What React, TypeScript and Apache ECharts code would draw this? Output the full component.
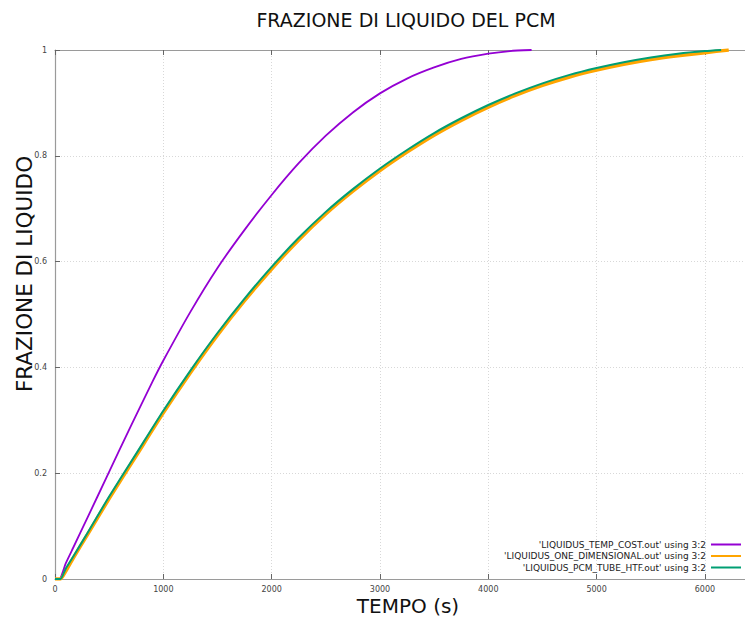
import React, { useEffect, useRef } from "react";
import * as echarts from "echarts";

const titleText = "FRAZIONE DI LIQUIDO DEL PCM";
const xName = "TEMPO (s)";
const yName = "FRAZIONE DI LIQUIDO";

const seriesNames = [
  "'LIQUIDUS_TEMP_COST.out' using 3:2",
  "'LIQUIDUS_ONE_DIMENSIONAL.out' using 3:2",
  "'LIQUIDUS_PCM_TUBE_HTF.out' using 3:2",
];

const tempCostT = [0, 40, 100, 170, 300, 480, 700, 900, 1000, 1250, 1500, 1750, 2000, 2250, 2500, 2750, 3000, 3250, 3500, 3750, 4000, 4200, 4400];
const tempCostV = [0, 0, 0.03, 0.06, 0.116, 0.194, 0.289, 0.373, 0.413, 0.505, 0.588, 0.66, 0.726, 0.786, 0.838, 0.882, 0.918, 0.946, 0.967, 0.983, 0.993, 0.998, 1.0];

const oneDimT = [0, 50, 100, 170, 300, 500, 750, 1000, 1250, 1500, 1750, 2000, 2250, 2500, 2750, 3000, 3250, 3500, 3750, 4000, 4250, 4500, 4750, 5000, 5250, 5500, 5750, 6000, 6220];
const oneDimV = [0, 0, 0.015, 0.04, 0.084, 0.152, 0.233, 0.314, 0.39, 0.461, 0.526, 0.586, 0.641, 0.69, 0.733, 0.772, 0.807, 0.839, 0.867, 0.892, 0.914, 0.933, 0.949, 0.962, 0.973, 0.982, 0.989, 0.995, 1.0];

const tubeT = [0, 50, 100, 170, 300, 500, 750, 1000, 1250, 1500, 1750, 2000, 2250, 2500, 2750, 3000, 3250, 3500, 3750, 4000, 4250, 4500, 4750, 5000, 5250, 5500, 5750, 6000, 6150];
const tubeV = [0, 0, 0.02, 0.043, 0.087, 0.156, 0.237, 0.318, 0.394, 0.465, 0.53, 0.59, 0.645, 0.694, 0.737, 0.776, 0.811, 0.843, 0.871, 0.896, 0.918, 0.937, 0.953, 0.966, 0.977, 0.986, 0.993, 0.998, 1.0];

const colors = ["#9400d3", "#ffa500", "#009e73"];
const widths = [1.8, 3.5, 2];

const zip = (t: number[], v: number[]) => t.map((x, i) => [x, v[i]]);

export default function App() {
  const ref = useRef<HTMLDivElement>(null);
  useEffect(() => {
    if (!ref.current) return;
    const chart = echarts.init(ref.current, undefined, { renderer: "svg" });
    const data = [zip(tempCostT, tempCostV), zip(oneDimT, oneDimV), zip(tubeT, tubeV)];
    const axisLineStyle = { color: "#9a9a9a", width: 1.2 };
    const gridLine = { show: true, lineStyle: { color: "#d8d8d8", type: [1, 2] as any, width: 1 } };
    const xFmt = (v: number) => (v % 1000 === 0 ? String(v) : "");
    chart.setOption({
      animation: false,
      backgroundColor: "#ffffff",
      grid: { left: 55, top: 50, bottom: 40, right: 0, containLabel: false },
      xAxis: [
        {
          type: "value",
          min: 0,
          max: 6370,
          interval: 1000,
          position: "bottom",
          axisLine: { show: true, lineStyle: axisLineStyle },
          axisTick: { show: true, inside: true, length: 5, lineStyle: { color: "#666" } },
          axisLabel: { fontSize: 8, color: "#444", fontFamily: "DejaVu Sans", margin: 6, formatter: xFmt, showMaxLabel: false },
          splitLine: gridLine,
        },
        {
          type: "value",
          min: 0,
          max: 6370,
          interval: 1000,
          position: "top",
          axisLine: { show: true, onZero: false, lineStyle: axisLineStyle },
          axisTick: { show: true, inside: true, length: 5, lineStyle: { color: "#666" } },
          axisLabel: { show: false },
          splitLine: { show: false },
        },
      ],
      yAxis: {
        type: "value",
        min: 0,
        max: 1,
        interval: 0.2,
        axisLine: { show: true, lineStyle: axisLineStyle },
        axisTick: { show: true, inside: true, length: 5, lineStyle: { color: "#666" } },
        axisLabel: { fontSize: 8, color: "#444", fontFamily: "DejaVu Sans", margin: 8 },
        splitLine: gridLine,
      },
      legend: {
        orient: "vertical",
        right: -2,
        top: 535,
        align: "right",
        itemWidth: 30,
        itemHeight: 10,
        itemGap: 2.5,
        itemStyle: { opacity: 0 },
        textStyle: { fontSize: 9, color: "#222", fontFamily: "DejaVu Sans" },
        data: seriesNames,
      },
      graphic: [
        {
          type: "text",
          x: 406,
          y: 20,
          style: { text: titleText, fontSize: 19, fill: "#111", fontFamily: "DejaVu Sans", textAlign: "center", textVerticalAlign: "middle" },
        },
        {
          type: "text",
          x: 408,
          y: 606,
          style: { text: xName, fontSize: 20, fill: "#111", fontFamily: "DejaVu Sans", textAlign: "center", textVerticalAlign: "middle" },
        },
        {
          type: "text",
          x: 24,
          y: 274,
          rotation: Math.PI / 2,
          style: { text: yName, fontSize: 21.5, fill: "#111", fontFamily: "DejaVu Sans", textAlign: "center", textVerticalAlign: "middle" },
        },
      ],
      series: seriesNames.map((name, i) => ({
        name,
        type: "line",
        xAxisIndex: 0,
        data: data[i],
        showSymbol: false,
        symbol: "none",
        smooth: 0.2,
        color: colors[i],
        lineStyle: { color: colors[i], width: widths[i] },
        z: 2 + i,
      })),
    });
    return () => chart.dispose();
  }, []);
  return <div ref={ref} style={{ position: "fixed", left: 0, top: 0, width: 745, height: 619 }} />;
}
